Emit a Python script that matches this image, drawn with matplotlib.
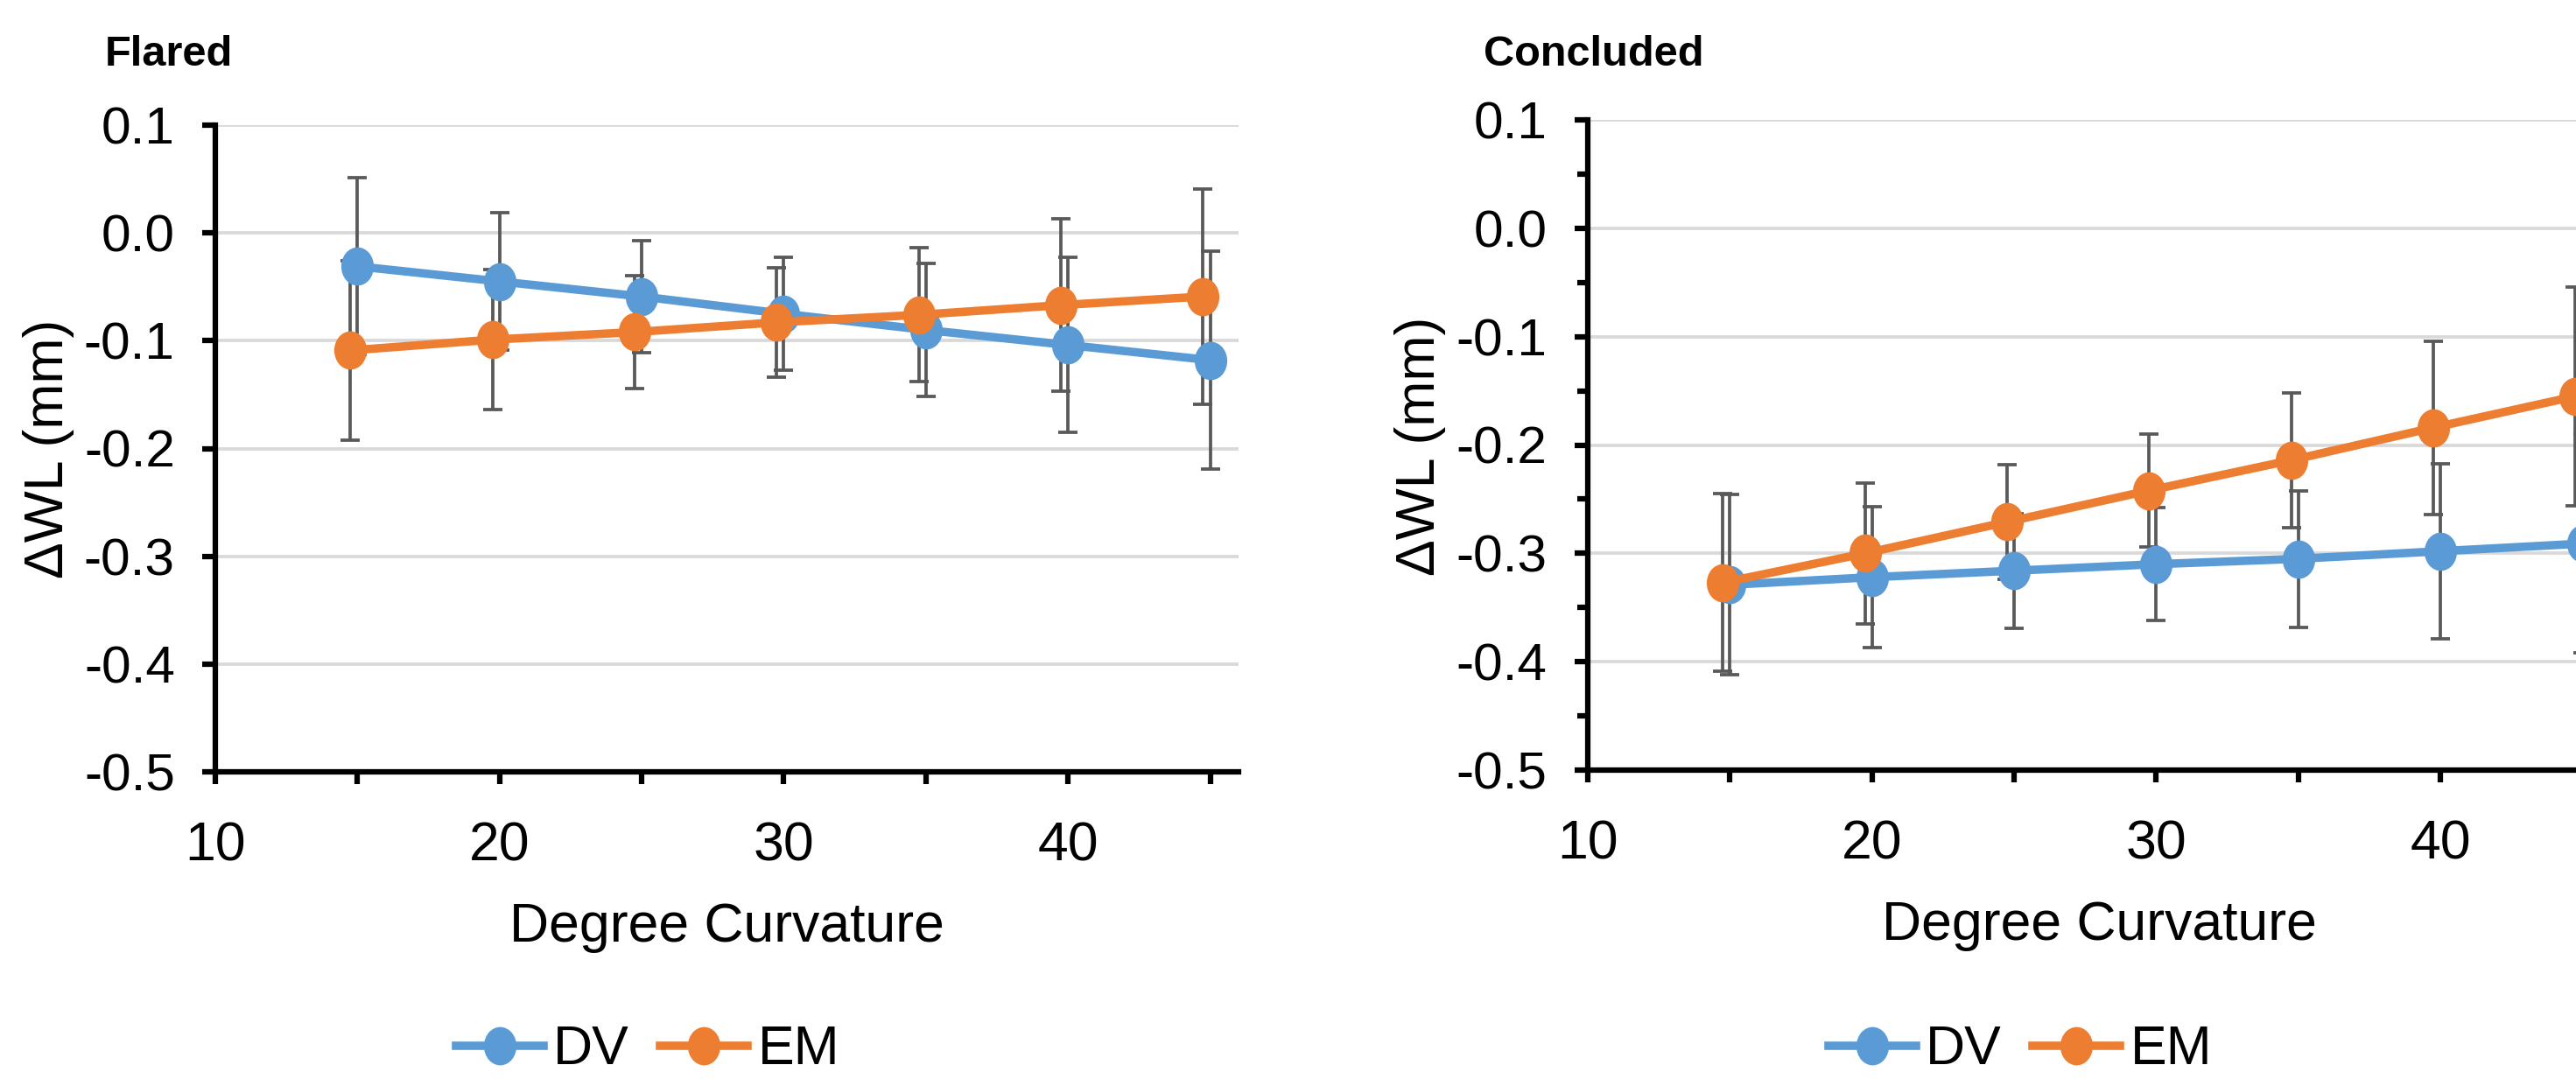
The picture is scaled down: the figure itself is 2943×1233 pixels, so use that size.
import numpy as np
import matplotlib
matplotlib.use("Agg")
from matplotlib import pyplot as plt
from matplotlib.path import Path
from matplotlib.markers import MarkerStyle
from matplotlib.transforms import Affine2D

plt.rcParams['font.family'] = ['Liberation Sans Narrow', 'Liberation Sans', 'DejaVu Sans']
plt.rcParams['axes.unicode_minus'] = False

# data
x_dv = [15, 20, 25, 30, 35, 40, 45]
x_em = [14.75, 19.75, 24.75, 29.75, 34.75, 39.75, 44.75]

flared_dv = [-0.031, -0.045, -0.059, -0.075, -0.090, -0.104, -0.118]
flared_dv_err = [0.082, 0.064, 0.052, 0.052, 0.062, 0.081, 0.101]
flared_em = [-0.109, -0.099, -0.092, -0.083, -0.076, -0.067, -0.059]
flared_em_err = [0.083, 0.065, 0.052, 0.051, 0.062, 0.080, 0.100]

concluded_dv = [-0.329, -0.322, -0.316, -0.310, -0.305, -0.298, -0.291]
concluded_dv_err = [0.083, 0.065, 0.053, 0.052, 0.063, 0.081, 0.101]
concluded_em = [-0.327, -0.300, -0.271, -0.242, -0.214, -0.184, -0.155]
concluded_em_err = [0.082, 0.065, 0.053, 0.052, 0.062, 0.080, 0.101]

y_ticks = [-0.5, -0.4, -0.3, -0.2, -0.1, 0.0, 0.1]
x_major = [10, 20, 30, 40]
x_minor = [15, 25, 35, 45]

BLUE = '#5B9BD5'
ORANGE = '#ED7D31'
W, H = 2943, 1233
DPI = 300

# slightly squashed circle, like the stretched excel markers
ell = Path.unit_circle().transformed(Affine2D().scale(0.85, 1.0))
mk = MarkerStyle(ell)

fig = plt.figure(figsize=(W / DPI, H / DPI), dpi=DPI)


def panel(rect, dv, dv_err, em, em_err, title, title_x, minor_y, leg_x):
    ax = fig.add_axes(rect)
    ax.errorbar(x_dv, dv, yerr=dv_err, fmt='none', ecolor='#595959',
                elinewidth=0.9, capsize=2.7, capthick=0.9, zorder=2)
    ax.errorbar(x_em, em, yerr=em_err, fmt='none', ecolor='#595959',
                elinewidth=0.9, capsize=2.7, capthick=0.9, zorder=2)
    l1, = ax.plot(x_dv, dv, color=BLUE, lw=2.3, marker=mk, ms=10.5,
                  mew=0, label='DV', zorder=3)
    l2, = ax.plot(x_em, em, color=ORANGE, lw=2.3, marker=mk, ms=10.5,
                  mew=0, label='EM', zorder=4)

    ax.set_xlim(10, 46)
    ax.set_ylim(-0.5, 0.1)
    ax.set_yticks(y_ticks)
    ax.set_yticklabels(['%.1f' % v for v in y_ticks])
    ax.set_xticks(x_major)
    ax.set_xticks(x_minor, minor=True)
    if minor_y:
        ax.set_yticks(np.arange(-0.45, 0.1, 0.1), minor=True)
    ax.grid(axis='y', color='#d9d9d9', lw=0.9, zorder=0)
    ax.set_axisbelow(True)
    for s in ['top', 'right']:
        ax.spines[s].set_visible(False)
    for s in ['left', 'bottom']:
        ax.spines[s].set_linewidth(1.5)
    ax.tick_params(axis='y', which='major', length=3.6, width=1.5, pad=7.5, labelsize=14.5)
    ax.tick_params(axis='y', which='minor', length=2.9, width=1.5)
    ax.tick_params(axis='x', which='both', length=3.4, width=1.5, pad=10, labelsize=15)
    ax.set_xlabel('Degree Curvature', fontsize=15, labelpad=8)

    fig.text(title_x / W, 1 - 75 / H, title, fontsize=11.7, fontweight='bold',
             family=['Liberation Sans', 'DejaVu Sans'], ha='left', va='baseline')
    ax.legend(handles=[l1, l2], loc='center', bbox_to_anchor=(leg_x / W, 1 - 1200 / H),
              bbox_transform=fig.transFigure, ncol=2, frameon=False, fontsize=15,
              handlelength=1.6, handletextpad=0.18, columnspacing=0.57, borderpad=0)
    return ax


ax1 = panel([246 / W, 1 - 882 / H, 1169 / W, 739 / H], flared_dv, flared_dv_err,
            flared_em, flared_em_err, 'Flared', 120, False, 740)
ax2 = panel([1814 / W, 1 - 880 / H, 1169 / W, 743 / H], concluded_dv, concluded_dv_err,
            concluded_em, concluded_em_err, 'Concluded', 1695, True, 2308)

for cx, cy in [(56, 513), (1622, 510)]:
    fig.text(cx / W, 1 - cy / H, '\u0394WL (mm)', rotation=90, fontsize=15,
             family=['Liberation Sans', 'DejaVu Sans'], ha='center', va='center')

fig.savefig('out.png', dpi=DPI)
